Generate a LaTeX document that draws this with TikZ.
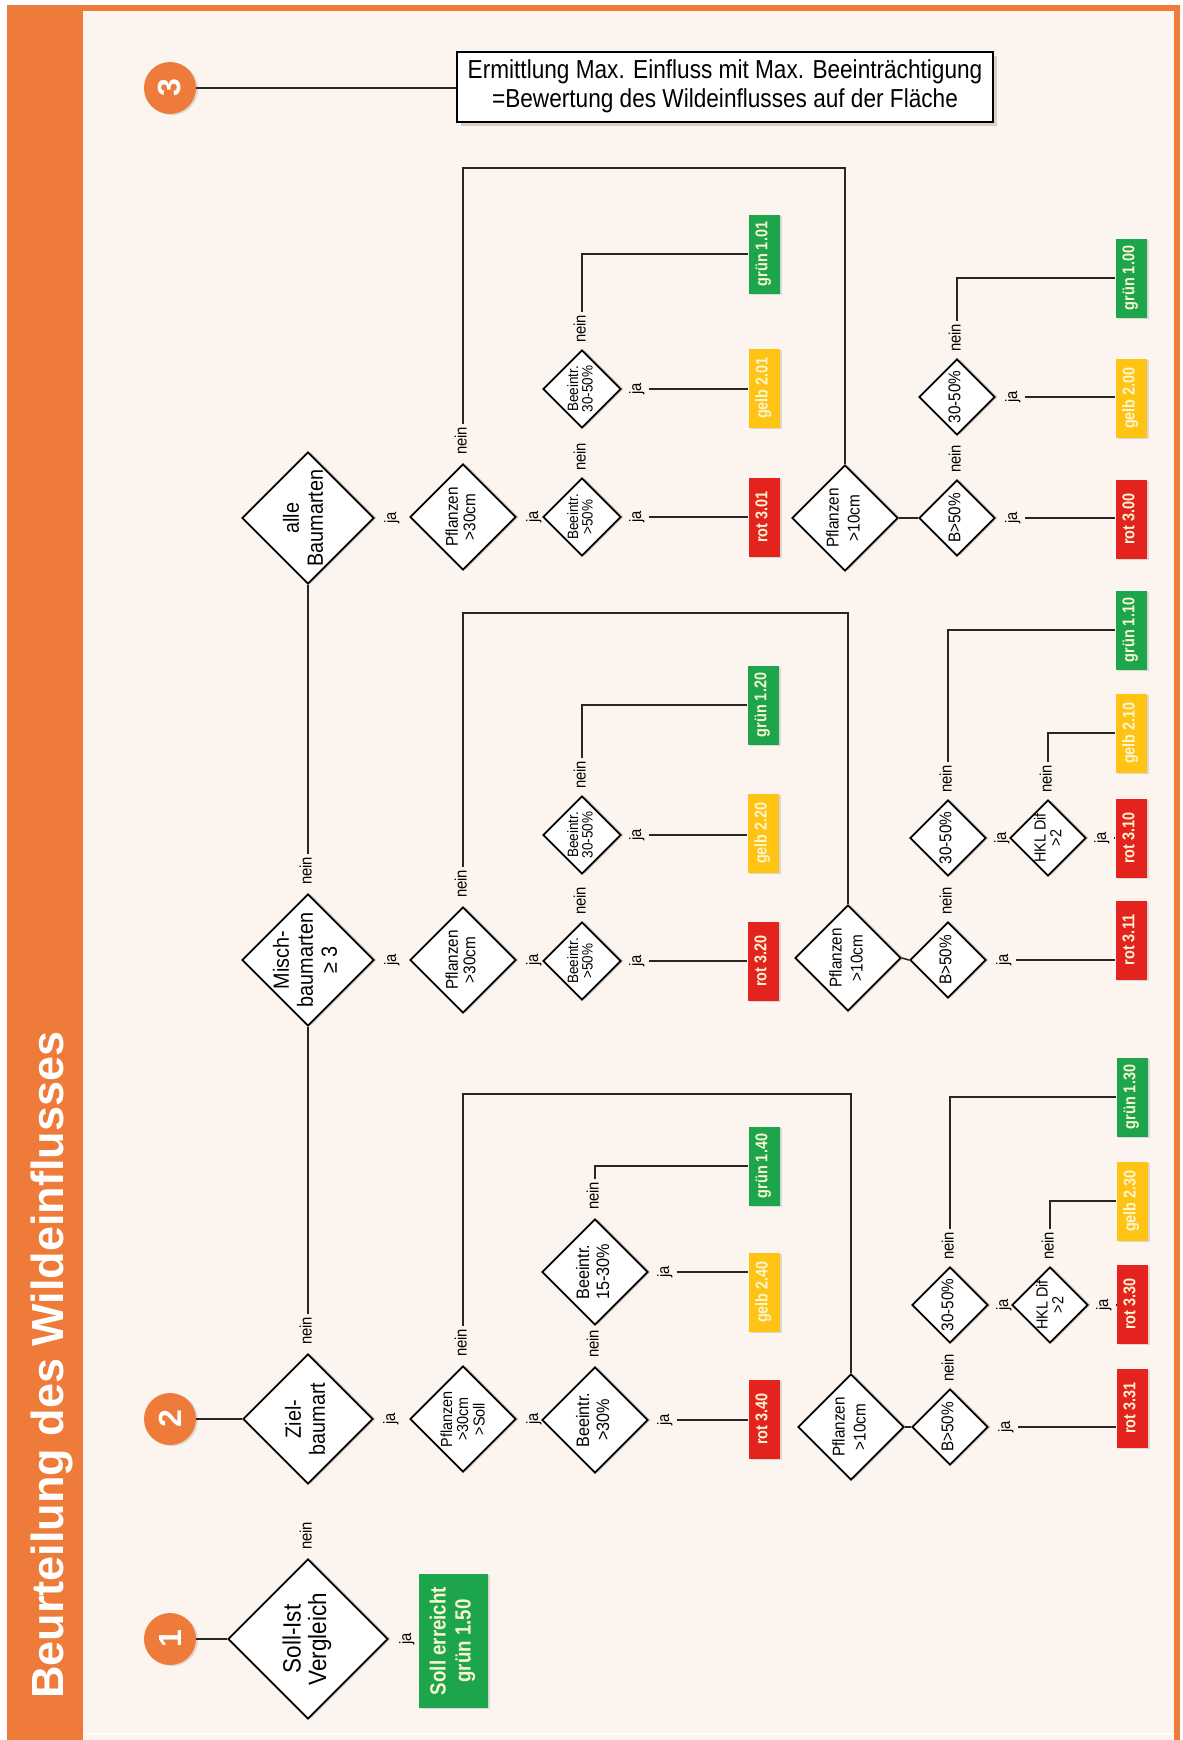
\documentclass[tikz,border=0pt]{standalone}
\usepackage{fontspec}
\setmainfont{Liberation Sans}
\newfontfamily\cond[FakeStretch=0.9]{Liberation Sans}
\newfontfamily\condb[FakeStretch=0.85]{Liberation Sans}
\newfontfamily\boxf[FakeStretch=0.87]{Liberation Sans}
\usepackage{graphicx}
\usetikzlibrary{shadows,calc,shapes.geometric}
\definecolor{orng}{HTML}{EF7B3A}
\definecolor{cream}{HTML}{FCF5EF}
\definecolor{gruen}{HTML}{1CA54A}
\definecolor{gelb}{HTML}{FFC314}
\definecolor{rot}{HTML}{E4231F}
\definecolor{btxt}{HTML}{FAF6D2}
\definecolor{ln}{HTML}{262626}
\newcommand{\rtx}[3]{\rotatebox{90}{\cond\fontsize{#1}{#2}\selectfont\begin{tabular}{@{}c@{}}#3\end{tabular}}}
\newcommand{\rtb}[3]{\rotatebox{90}{\condb\bfseries\fontsize{#1}{#2}\selectfont\begin{tabular}{@{}c@{}}#3\end{tabular}}}
\newcommand{\ja}{\rtx{16.5}{16}{ja}}
\newcommand{\nein}{\rtx{16.5}{16}{nein}}
\tikzset{
  dia/.style={shape=diamond, draw=black, line width=1.7pt, fill=white, inner sep=0pt, minimum size=#1,
    drop shadow={shadow xshift=3pt, shadow yshift=0pt, opacity=0.3}},
  res/.style={shape=rectangle, fill=#1, inner sep=0pt, minimum width=31pt, minimum height=79pt, text=btxt,
    drop shadow={shadow xshift=2pt, shadow yshift=-1pt, opacity=0.25}},
  lab/.style={inner sep=3pt},
  conn/.style={draw=ln, line width=1.6pt},
  num/.style={circle, fill=orng, minimum size=52pt, inner sep=0pt, text=white,
    drop shadow={shadow xshift=2pt, shadow yshift=-1pt, opacity=0.25}},
}
\begin{document}
\begin{tikzpicture}[x=1pt,y=-1pt]
\useasboundingbox (0,0) rectangle (1183,1740);
% background and frame
\fill[white] (0,0) rectangle (1183,1740);
\fill[orng] (7,5) rectangle (1180,1740);
\fill[cream] (83,11) rectangle (1174,1740);
\fill[white!60!cream] (83,1733) rectangle (1174,1735);
\node[rotate=90, anchor=base west, inner sep=0pt, text=white, font=\bfseries\fontsize{45}{45}\selectfont] (title) at (63,1699) {Beurteilung des Wildeinflusses};

% circles
\node[num] (c3) at (170,88) {\rotatebox{90}{\bfseries\fontsize{32}{32}\selectfont 3}};
\node[num] (c2) at (170,1419) {\rotatebox{90}{\bfseries\fontsize{32}{32}\selectfont 2}};
\node[num] (c1) at (170,1639) {\rotatebox{90}{\bfseries\fontsize{32}{32}\selectfont 1}};

% top box
\node[draw=black, line width=1.6pt, fill=white, minimum width=536pt, minimum height=70pt, inner sep=0pt,
  drop shadow={shadow xshift=4pt, shadow yshift=-4pt, opacity=0.3}] (box) at (725,87)
  {\boxf\fontsize{26}{29}\selectfont\begin{tabular}{@{}c@{}}Ermittlung Max. Einfluss mit Max. Beeinträchtigung\\=Bewertung des Wildeinflusses auf der Fläche\end{tabular}};
\draw[conn] (c3.east) -- (c3.east -| box.west);

% ===== trunk diamonds =====
\node[dia=132pt, label={[xshift=-2pt]center:{\rtx{22}{24}{alle\\Baumarten}}}] (alle) at (308,518) {};
\node[dia=132pt, label={center:{\rtx{22}{24}{Misch-\\baumarten\\≥ 3}}}] (misch) at (308,960) {};
\node[dia=130pt, label={center:{\rtx{22}{24}{Ziel-\\baumart}}}] (ziel) at (308,1419) {};
\node[dia=160pt, label={center:{\rtx{25}{25}{Soll-Ist\\Vergleich}}}] (soll) at (308,1639) {};
\node[fill=gruen, minimum width=69pt, minimum height=134pt, inner sep=0pt, text=btxt,
  drop shadow={shadow xshift=2pt, shadow yshift=-1pt, opacity=0.25}] (s150) at (453,1641) {\rtb{22}{25}{Soll erreicht\\grün 1.50}};

\draw[conn] (c2.east) -- (ziel.west);
\draw[conn] (c1.east) -- (soll.west);
\node[lab, above=5pt] (nS) at (soll.north) {\nein};
\node[lab, right=7pt] (jS) at (soll.east) {\ja};
\node[lab, above=5pt] (nZ) at (ziel.north) {\nein};
\node[lab, right=6pt] (jZ) at (ziel.east) {\ja};
\node[lab, above=5pt] (nM) at (misch.north) {\nein};
\node[lab, right=6pt] (jM) at (misch.east) {\ja};
\node[lab, right=6pt] (jAl) at (alle.east) {\ja};
\draw[conn] (nZ.north) -- (misch.south);
\draw[conn] (nM.north) -- (alle.south);

% ===== Row A =====
\node[dia=106pt, label={center:{\rtx{17}{17.5}{Pflanzen\\>30cm}}}] (PA30) at (463,517) {};
\node[dia=78pt, label={center:{\rtx{15}{14}{Beeintr.\\>50\%}}}] (BA50) at (582,517) {};
\node[dia=78pt, label={center:{\rtx{15}{14}{Beeintr.\\30-50\%}}}] (BA30) at (582,389) {};
\node[res=rot] (rA1) at (764,517) {\rtb{17}{17}{rot 3.01}};
\node[res=gelb] (gA1) at (764,388) {\rtb{17}{17}{gelb 2.01}};
\node[res=gruen] (grA1) at (764,254) {\rtb{17}{17}{grün 1.01}};
\node[dia=106pt, label={center:{\rtx{17}{21}{Pflanzen\\>10cm}}}] (PA10) at (845,518) {};
\node[dia=76pt, label={center:{\rtx{17}{17}{B>50\%}}}] (BBA) at (957,518) {};
\node[dia=76pt, label={center:{\rtx{17}{17}{30-50\%}}}] (TA) at (957,397) {};
\node[res=rot] (rA0) at (1131,519) {\rtb{17}{17}{rot 3.00}};
\node[res=gelb] (gA0) at (1131,398) {\rtb{17}{17}{gelb 2.00}};
\node[res=gruen] (grA0) at (1131,278) {\rtb{17}{17}{grün 1.00}};
\coordinate (cA) at (845,168);

\node[lab, right=6pt] (jA1) at (PA30.east) {\ja};
\node[lab, above=5pt] (nA1) at (PA30.north) {\nein};
\node[lab, right=4pt] (jA2) at (BA50.east) {\ja};
\node[lab, above=3pt] (nA2) at (BA50.north) {\nein};
\node[lab, right=4pt] (jA3) at (BA30.east) {\ja};
\node[lab, above=3pt] (nA3) at (BA30.north) {\nein};
\node[lab, right=6pt] (jA4) at (BBA.east) {\ja};
\node[lab, above=3pt] (nA4) at (BBA.north) {\nein};
\node[lab, right=6pt] (jA5) at (TA.east) {\ja};
\node[lab, above=3pt] (nA5) at (TA.north) {\nein};

\draw[conn] (nA1.north) |- (cA) -- (PA10.north);
\draw[conn] (jA2.east) -- (jA2.east -| rA1.west);
\draw[conn] (jA3.east) -- (jA3.east -| gA1.west);
\draw[conn] (nA3.north) |- (grA1.west);
\draw[conn] (PA10.east) -- (BBA.west);
\draw[conn] (jA4.east) -- (jA4.east -| rA0.west);
\draw[conn] (jA5.east) -- (jA5.east -| gA0.west);
\draw[conn] (nA5.north) |- (grA0.west);

% ===== Row B =====
\node[dia=106pt, label={center:{\rtx{17}{17.5}{Pflanzen\\>30cm}}}] (PB30) at (463,960) {};
\node[dia=78pt, label={center:{\rtx{15}{14}{Beeintr.\\>50\%}}}] (BB50) at (582,961) {};
\node[dia=78pt, label={center:{\rtx{15}{14}{Beeintr.\\30-50\%}}}] (BB30) at (582,835) {};
\node[res=rot] (rB1) at (763,961) {\rtb{17}{17}{rot 3.20}};
\node[res=gelb] (gB1) at (763,833) {\rtb{17}{17}{gelb 2.20}};
\node[res=gruen] (grB1) at (763,705) {\rtb{17}{17}{grün 1.20}};
\node[dia=106pt, label={center:{\rtx{17}{21}{Pflanzen\\>10cm}}}] (PB10) at (848,958) {};
\node[dia=76pt, label={center:{\rtx{17}{17}{B>50\%}}}] (BBB) at (948,960) {};
\node[dia=76pt, label={center:{\rtx{17}{17}{30-50\%}}}] (TB) at (948,838) {};
\node[dia=76pt, label={[xshift=2pt]center:{\rtx{16}{15}{HKL Dif\\>2}}}] (HB) at (1048,838) {};
\node[res=rot] (rB11) at (1131,940) {\rtb{17}{17}{rot 3.11}};
\node[res=rot] (rB10) at (1131,838) {\rtb{17}{17}{rot 3.10}};
\node[res=gelb] (gB10) at (1131,733) {\rtb{17}{17}{gelb 2.10}};
\node[res=gruen] (grB10) at (1131,630) {\rtb{17}{17}{grün 1.10}};
\coordinate (cB) at (848,613);

\node[lab, right=6pt] (jB1) at (PB30.east) {\ja};
\node[lab, above=5pt] (nB1) at (PB30.north) {\nein};
\node[lab, right=4pt] (jB2) at (BB50.east) {\ja};
\node[lab, above=3pt] (nB2) at (BB50.north) {\nein};
\node[lab, right=4pt] (jB3) at (BB30.east) {\ja};
\node[lab, above=3pt] (nB3) at (BB30.north) {\nein};
\node[lab, right=6pt] (jB4) at (BBB.east) {\ja};
\node[lab, above=3pt] (nB4) at (BBB.north) {\nein};
\node[lab, right=4pt] (jB5) at (TB.east) {\ja};
\node[lab, above=3pt] (nB5) at (TB.north) {\nein};
\node[lab, right=4pt] (jB6) at (HB.east) {\ja};
\node[lab, above=3pt] (nB6) at (HB.north) {\nein};

\draw[conn] (nB1.north) |- (cB) -- (PB10.north);
\draw[conn] (jB2.east) -- (jB2.east -| rB1.west);
\draw[conn] (jB3.east) -- (jB3.east -| gB1.west);
\draw[conn] (nB3.north) |- (grB1.west);
\draw[conn] (PB10.east) -- (BBB.west);
\draw[conn] (jB4.east) -- (jB4.east -| rB11.west);
\draw[conn] (jB6.east) -- (jB6.east -| rB10.west);
\draw[conn] (nB6.north) |- (gB10.west);
\draw[conn] (nB5.north) |- (grB10.west);

% ===== Row C =====
\node[dia=106pt, label={[xshift=2pt]center:{\rtx{16}{16}{Pflanzen\\>30cm\\>Soll}}}] (PC30) at (463,1419) {};
\node[dia=106pt, label={center:{\rtx{18}{20}{Beeintr.\\>30\%}}}] (BC30) at (595,1420) {};
\node[dia=106pt, label={center:{\rtx{18}{20}{Beeintr.\\15-30\%}}}] (BC15) at (595,1272) {};
\node[res=rot] (rC40) at (764,1419) {\rtb{17}{17}{rot 3.40}};
\node[res=gelb] (gC40) at (764,1292) {\rtb{17}{17}{gelb 2.40}};
\node[res=gruen] (grC40) at (764,1166) {\rtb{17}{17}{grün 1.40}};
\node[dia=106pt, label={center:{\rtx{17}{21}{Pflanzen\\>10cm}}}] (PC10) at (851,1427) {};
\node[dia=76pt, label={center:{\rtx{17}{17}{B>50\%}}}] (BBC) at (950,1427) {};
\node[dia=76pt, label={center:{\rtx{17}{17}{30-50\%}}}] (TC) at (950,1305) {};
\node[dia=76pt, label={[xshift=2pt]center:{\rtx{16}{15}{HKL Dif\\>2}}}] (HC) at (1050,1305) {};
\node[res=rot] (rC31) at (1132,1408) {\rtb{17}{17}{rot 3.31}};
\node[res=rot] (rC30) at (1132,1304) {\rtb{17}{17}{rot 3.30}};
\node[res=gelb] (gC30) at (1132,1201) {\rtb{17}{17}{gelb 2.30}};
\node[res=gruen] (grC30) at (1132,1097) {\rtb{17}{17}{grün 1.30}};
\coordinate (cC) at (851,1094);

\node[lab, right=6pt] (jC1) at (PC30.east) {\ja};
\node[lab, above=5pt] (nC1) at (PC30.north) {\nein};
\node[lab, right=5pt] (jC2) at (BC30.east) {\ja};
\node[lab, above=5pt] (nC2) at (BC30.north) {\nein};
\node[lab, right=5pt] (jC3) at (BC15.east) {\ja};
\node[lab, above=5pt] (nC3) at (BC15.north) {\nein};
\node[lab, right=6pt] (jC4) at (BBC.east) {\ja};
\node[lab, above=3pt] (nC4) at (BBC.north) {\nein};
\node[lab, right=4pt] (jC5) at (TC.east) {\ja};
\node[lab, above=3pt] (nC5) at (TC.north) {\nein};
\node[lab, right=4pt] (jC6) at (HC.east) {\ja};
\node[lab, above=3pt] (nC6) at (HC.north) {\nein};

\draw[conn] (nC1.north) |- (cC) -- (PC10.north);
\draw[conn] (jC2.east) -- (jC2.east -| rC40.west);
\draw[conn] (jC3.east) -- (jC3.east -| gC40.west);
\draw[conn] (nC3.north) |- (grC40.west);
\draw[conn] (PC10.east) -- (BBC.west);
\draw[conn] (jC4.east) -- (jC4.east -| rC31.west);
\draw[conn] (jC6.east) -- (jC6.east -| rC30.west);
\draw[conn] (nC6.north) |- (gC30.west);
\draw[conn] (nC5.north) |- (grC30.west);
\end{tikzpicture}
\end{document}
